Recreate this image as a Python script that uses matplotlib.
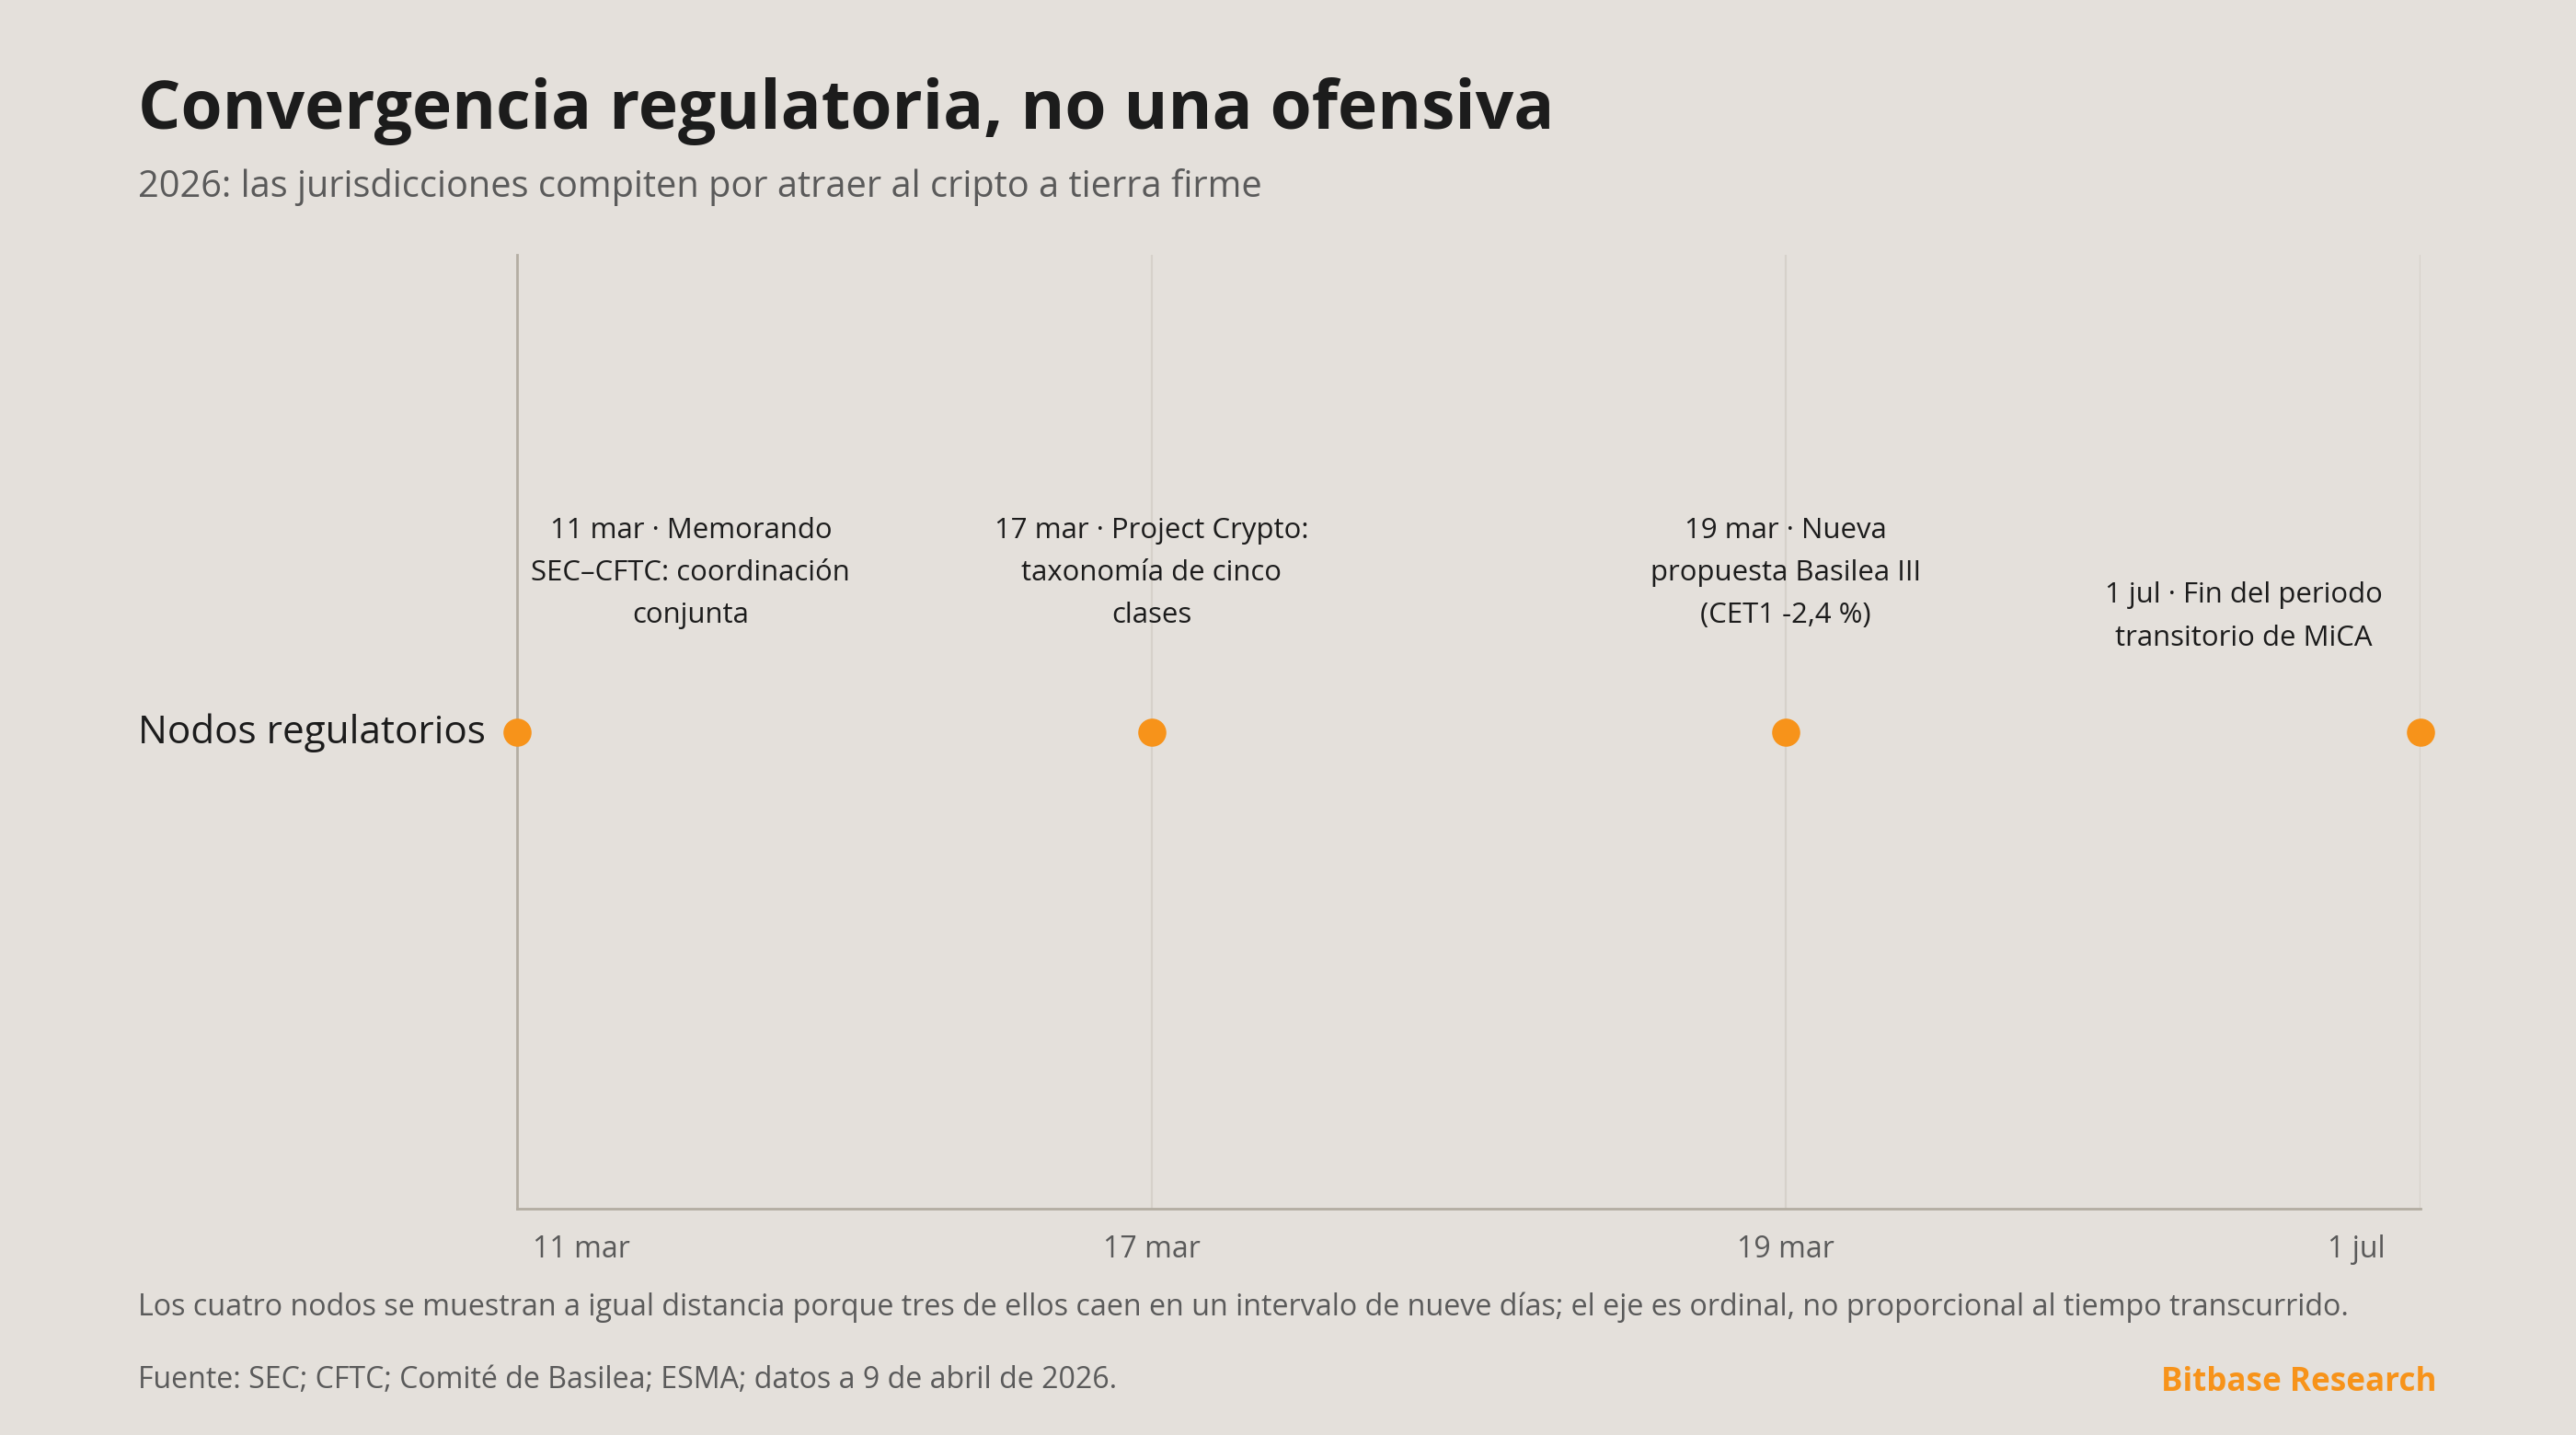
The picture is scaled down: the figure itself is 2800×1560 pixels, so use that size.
import matplotlib
matplotlib.use("Agg")
import matplotlib.pyplot as plt
import matplotlib.transforms as mtransforms

# data
fechas = ["11 mar", "17 mar", "19 mar", "1 jul"]
eventos = [
    "11 mar · Memorando\nSEC–CFTC: coordinación\nconjunta",
    "17 mar · Project Crypto:\ntaxonomía de cinco\nclases",
    "19 mar · Nueva\npropuesta Basilea III\n(CET1 -2,4 %)",
    "1 jul · Fin del periodo\ntransitorio de MiCA",
]
fila = "Nodos regulatorios"
posicion = [0, 1, 2, 3]  # eje ordinal

BG = "#e4e0db"
ORANGE = "#f7931a"
DARK = "#1c1c1c"
GREY = "#5a5a5a"

plt.rcParams["font.family"] = ["Open Sans", "DejaVu Sans"]

fig = plt.figure(figsize=(14, 7.8), dpi=200, facecolor=BG)
ax = fig.add_axes([0.2007, 0.1577, 0.7389, 0.6647], facecolor=BG)

y = [0] * len(posicion)
ax.plot(posicion, y, "o", color=ORANGE, markersize=11, markeredgewidth=0,
        clip_on=False, zorder=5)

ax.set_xlim(0, 3)
ax.set_ylim(-1, 1)
ax.set_yticks([])
ax.set_xticks(posicion)
ax.set_xticklabels(fechas, fontsize=11.5, color=GREY)
ax.tick_params(axis="x", length=0, pad=10)
ax.grid(axis="x", color="#d6d1ca", linewidth=0.8)
ax.set_axisbelow(True)
for s in ["top", "right"]:
    ax.spines[s].set_visible(False)
ax.spines["left"].set_color("#b3ada2")
ax.spines["left"].set_linewidth(1.0)
ax.spines["bottom"].set_color("#b3ada2")
ax.spines["bottom"].set_linewidth(1.0)

# keep edge tick labels inside the plot
labels = ax.get_xticklabels()
shift = 70 / 200
labels[0].set_transform(labels[0].get_transform() +
                        mtransforms.ScaledTranslation(shift, 0, fig.dpi_scale_trans))
labels[-1].set_transform(labels[-1].get_transform() +
                         mtransforms.ScaledTranslation(-shift, 0, fig.dpi_scale_trans))

# event labels
offsets = [(68, 62), (0, 62), (0, 62), (-69, 45)]
for xi, txt, off in zip(posicion, eventos, offsets):
    ax.annotate(txt, (xi, 0), xytext=off, textcoords="offset points",
                ha="center", va="center", fontsize=11.2, color=DARK,
                linespacing=1.7, annotation_clip=False)

fig.text(0.1885, 0.489, fila, ha="right", va="center", fontsize=15.2, color=DARK)

fig.text(0.0536, 0.910, "Convergencia regulatoria, no una ofensiva",
         fontsize=26.3, fontweight="bold", color=DARK, va="baseline")
fig.text(0.0536, 0.863, "2026: las jurisdicciones compiten por atraer al cripto a tierra firme",
         fontsize=14.3, color=GREY, va="baseline")
fig.text(0.0536, 0.0833,
         "Los cuatro nodos se muestran a igual distancia porque tres de ellos caen en un "
         "intervalo de nueve días; el eje es ordinal, no proporcional al tiempo transcurrido.",
         fontsize=11.6, color=GREY, va="baseline")
fig.text(0.0536, 0.0327, "Fuente: SEC; CFTC; Comité de Basilea; ESMA; datos a 9 de abril de 2026.",
         fontsize=11.55, color=GREY, va="baseline")
fig.text(0.9458, 0.031, "Bitbase Research", fontsize=12.6, fontweight="bold",
         color=ORANGE, ha="right", va="baseline")

fig.savefig("out.png", dpi=200, facecolor=BG)
plt.close(fig)
